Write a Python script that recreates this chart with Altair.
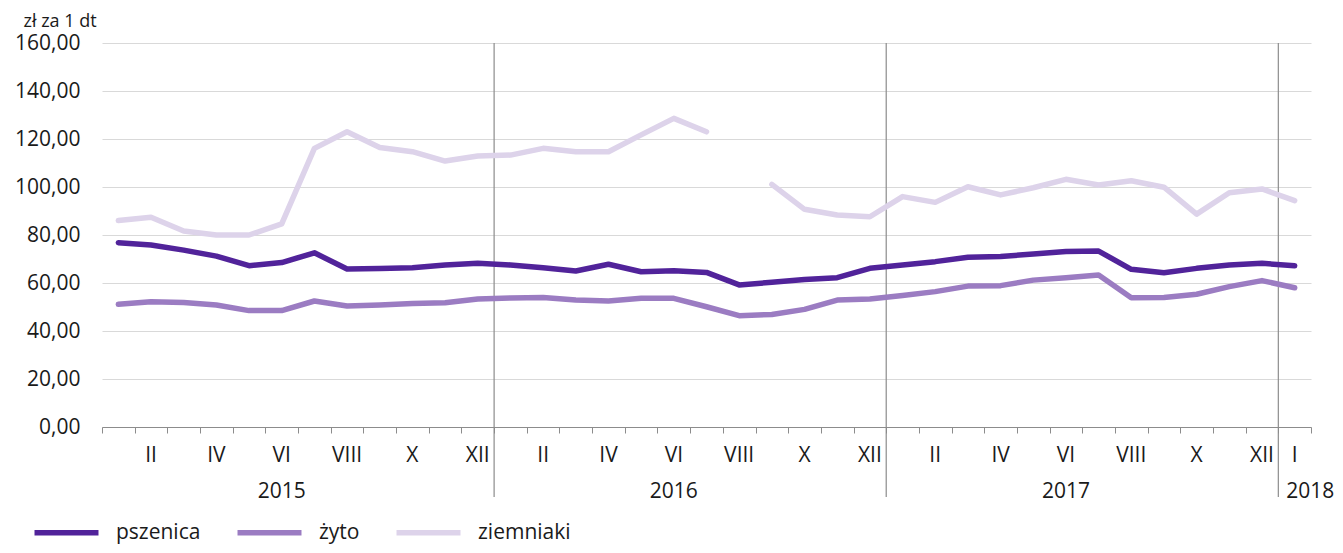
import altair as alt
import pandas as pd

# ---- data -------------------------------------------------------------
months = ["I", "II", "III", "IV", "V", "VI", "VII", "VIII", "IX", "X", "XI", "XII"] * 3 + ["I"]
years = [2015] * 12 + [2016] * 12 + [2017] * 12 + [2018]

pszenica = [76.8, 75.8, 73.7, 71.2, 67.2, 68.5, 72.6, 65.8, 66.0, 66.4, 67.5, 68.2,
            67.5, 66.4, 65.0, 67.8, 64.7, 65.1, 64.4, 59.2, 60.3, 61.5, 62.2, 66.1,
            67.5, 68.9, 70.7, 71.0, 72.1, 73.1, 73.3, 65.7, 64.3, 66.1, 67.5, 68.2,
            67.2]
zyto = [51.1, 52.2, 51.9, 50.8, 48.5, 48.5, 52.5, 50.4, 50.8, 51.5, 51.8, 53.3,
        53.8, 54.0, 52.9, 52.5, 53.6, 53.6, 50.1, 46.4, 46.9, 49.0, 52.9, 53.3,
        54.8, 56.4, 58.7, 58.9, 61.2, 62.2, 63.3, 53.9, 54.0, 55.3, 58.5, 61.0,
        58.0]
ziemniaki = [86.0, 87.4, 81.7, 80.0, 80.0, 84.6, 116.1, 123.0, 116.5, 114.7, 110.8, 112.9,
             113.3, 116.1, 114.7, 114.7, 121.7, 128.6, 123.0, None, 101.1, 90.7, 88.3, 87.6,
             96.0, 93.6, 100.1, 96.7, 99.7, 103.2, 100.8, 102.6, 99.9, 88.7, 97.6, 99.2,
             94.3]

series_names = ["pszenica", "żyto", "ziemniaki"]
series_values = [pszenica, zyto, ziemniaki]
series_colors = ["#51239a", "#9b7cc2", "#ddd3ea"]

y_ticks = [0, 20, 40, 60, 80, 100, 120, 140, 160]
year_labels = ["2015", "2016", "2017"]
last_year_label = "2018"

# ---- tables -----------------------------------------------------------
rows = []
for name, vals in zip(series_names, series_values):
    seg = 0
    for i, v in enumerate(vals):
        if v is None:
            seg += 1
            continue
        rows.append({"pos": i + 0.5, "value": v, "series": name, "seg": f"{name}-{seg}"})
df = pd.DataFrame(rows)

n = len(months)
month_lab = pd.DataFrame([
    {"pos": i + 0.5, "label": months[i]}
    for i in range(n)
    if (i % 12) % 2 == 1 or i == n - 1
])
# year labels sit under June of each year
year_df = pd.DataFrame([
    {"pos": years.index(int(y)) + 5.5, "label": y} for y in year_labels
])
last_year_df = pd.DataFrame([{"pos": years.index(int(last_year_label)), "label": last_year_label}])
sep_df = pd.DataFrame([{"pos": i} for i in range(1, n) if years[i] != years[i - 1]])

# ---- chart ------------------------------------------------------------
FONT = "Open Sans"
TXT = "#1a1a1a"
W, H = 1209, 384

xscale = alt.Scale(domain=[0, n], nice=False, zero=False)
yscale = alt.Scale(domain=[0, 160], nice=False)
x_axis = alt.Axis(values=list(range(n + 1)), labels=False, tickSize=6, tickColor="#8c8c8c",
                  domainColor="#8c8c8c", tickWidth=1, domainWidth=1, grid=False, title=None)


def xenc():
    return alt.X("pos:Q", scale=xscale, axis=x_axis)


lines = alt.Chart(df).mark_line(strokeWidth=5.5, strokeCap="round", strokeJoin="round").encode(
    x=xenc(),
    y=alt.Y("value:Q", scale=yscale,
            axis=alt.Axis(values=y_ticks, grid=True, gridColor="#d9d9d9", gridWidth=1,
                          domain=False, ticks=False,
                          labelExpr="replace(format(datum.value, '.2f'), '.', ',')",
                          labelFontSize=21, labelFont=FONT, labelColor=TXT, labelPadding=22,
                          title="zł za 1 dt", titleAngle=0, titleAlign="left",
                          titleBaseline="alphabetic", titleX=-79, titleY=-17,
                          titleFontSize=18, titleFont=FONT, titleFontWeight="normal",
                          titleColor=TXT)),
    color=alt.Color("series:N", scale=alt.Scale(domain=series_names, range=series_colors),
                    legend=alt.Legend(title=None, orient="none", legendX=-49, legendY=476,
                                      direction="horizontal", symbolType="M-3,0L3,0",
                                      symbolSize=455, symbolStrokeWidth=5.5,
                                      labelFontSize=21, labelFont=FONT, labelColor=TXT,
                                      labelOffset=36, columnPadding=25, padding=0)),
    detail="seg:N",
)

seps = alt.Chart(sep_df).mark_rule(color="#8c8c8c", strokeWidth=1.2).encode(
    x=xenc(), y=alt.value(0), y2=alt.value(H + 70)
)

mlabels = alt.Chart(month_lab).mark_text(fontSize=21, font=FONT, color=TXT, baseline="middle").encode(
    x=xenc(), y=alt.value(H + 29), text="label:N"
)
ylabels = alt.Chart(year_df).mark_text(fontSize=21, font=FONT, color=TXT, baseline="middle").encode(
    x=xenc(), y=alt.value(H + 65), text="label:N"
)
lylabel = alt.Chart(last_year_df).mark_text(fontSize=21, font=FONT, color=TXT, baseline="middle",
                                           align="left", dx=8).encode(
    x=xenc(), y=alt.value(H + 65), text="label:N"
)

chart = alt.layer(seps, lines, mlabels, ylabels, lylabel).properties(
    width=W, height=H,
    padding={"left": 94, "top": 35, "right": 24, "bottom": 117},
    autosize=alt.AutoSizeParams(type="none"),
    background="white",
).configure_view(stroke=None)

chart.save("out.html", embed_options={"renderer": "svg", "actions": False})
